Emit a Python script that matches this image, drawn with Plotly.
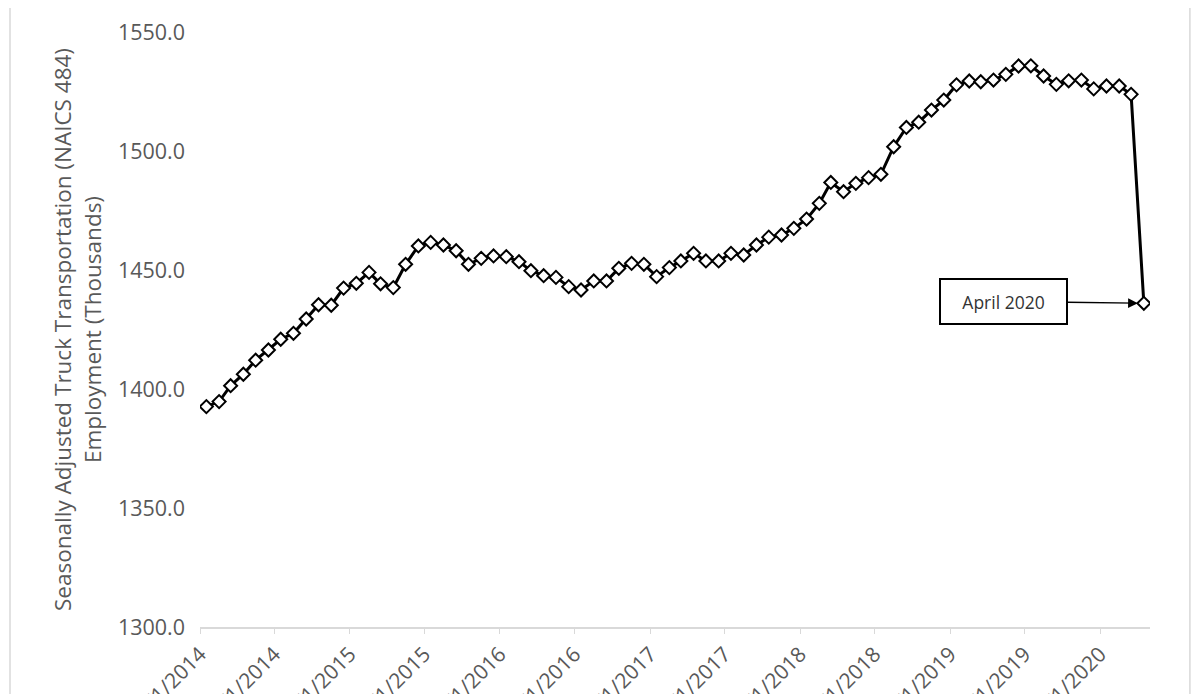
#! /usr/bin/env python3

import pandas as pd
import plotly.graph_objs as go

# monthly truck transportation employment, seasonally adjusted (thousands)
months = pd.date_range("2014-01-01", "2020-04-01", freq="MS")
employment = [
    1392.6, 1394.7, 1401.4, 1406.2, 1412.1, 1416.4, 1420.9, 1423.4, 1429.4, 1435.4, 1435.2, 1442.4,  # 2014
    1444.4, 1449.0, 1444.2, 1442.6, 1452.4, 1460.1, 1461.6, 1460.5, 1458.1, 1452.4, 1454.9, 1455.9,  # 2015
    1455.6, 1453.5, 1449.7, 1447.6, 1446.9, 1443.0, 1441.6, 1445.4, 1445.4, 1450.7, 1452.8, 1452.4,  # 2016
    1447.2, 1451.0, 1453.8, 1457.0, 1453.8, 1453.8, 1457.0, 1456.3, 1460.5, 1463.8, 1464.7, 1467.5,  # 2017
    1471.4, 1478.0, 1486.8, 1482.9, 1486.4, 1488.8, 1490.2, 1501.8, 1509.9, 1512.1, 1517.2, 1521.4,  # 2018
    1527.8, 1529.4, 1529.1, 1529.8, 1532.2, 1535.7, 1535.8, 1531.5, 1528.0, 1529.5, 1529.8, 1526.1,  # 2019
    1527.3, 1527.3, 1523.8, 1436.0,  # 2020
]

# labels every 6 months, like the excel date axis
tick_dates = pd.date_range("2014-01-01", "2020-01-01", freq="6MS")
tick_labels = [f"{d.month}/{d.day}/{d.year}" for d in tick_dates]
y_ticks = [1300, 1350, 1400, 1450, 1500, 1550]

half_month = pd.Timedelta(days=15.5)
grey = "#595959"
font = "Open Sans, sans-serif"

fig = go.Figure()
fig.add_trace(go.Scatter(
    x=months, y=employment, mode="lines+markers", name="Employment",
    line=dict(color="black", width=3),
    marker=dict(symbol="diamond", size=10, color="white", line=dict(color="black", width=2)),
))

# the April 2020 callout
fig.add_annotation(
    x=months[-1], y=employment[-1], text="April 2020",
    showarrow=True, ax=-140, ay=-2, axref="pixel", ayref="pixel",
    arrowhead=2, arrowsize=1.5, arrowwidth=1.3, arrowcolor="black", standoff=6,
    bordercolor="black", borderwidth=2, borderpad=8, bgcolor="white",
    width=109, height=27, font=dict(family=font, size=17.5, color="#333333"),
)

# light frame round the chart
fig.add_shape(type="rect", xref="paper", yref="paper",
              x0=-0.2, x1=1.042, y0=-0.13, y1=1.047,
              line=dict(color="#d9d9d9", width=1.5), layer="below")

# the page puts the figure 8px in from the corner, so the margins are shifted by that
fig.update_layout(
    width=1200, height=694,
    margin=dict(l=192, r=58, t=24, b=75, autoexpand=False),
    paper_bgcolor="white", plot_bgcolor="white",
    showlegend=False,
    font=dict(family=font, color=grey),
    xaxis=dict(
        range=[months[0] - half_month, months[-1] + pd.Timedelta(days=15)],
        tickvals=[d - half_month for d in tick_dates], ticktext=tick_labels,
        tickangle=-45, tickfont=dict(size=21, color=grey),
        showgrid=False, zeroline=False,
        showline=True, linecolor="#d9d9d9", linewidth=1.5,
        ticks="outside", ticklen=5, tickcolor="#d9d9d9",
        automargin=False,
    ),
    yaxis=dict(
        range=[1300, 1550], tickvals=y_ticks, tickformat=".1f",
        tickfont=dict(size=21.5, color=grey), ticklabelstandoff=14,
        showgrid=False, zeroline=False, showline=False, ticks="",
        title=dict(
            text="Seasonally Adjusted Truck Transportation (NAICS 484)<br>Employment (Thousands)",
            font=dict(size=22.5, color=grey), standoff=10,
        ),
        automargin=False,
    ),
)

fig.write_html("out.html")
